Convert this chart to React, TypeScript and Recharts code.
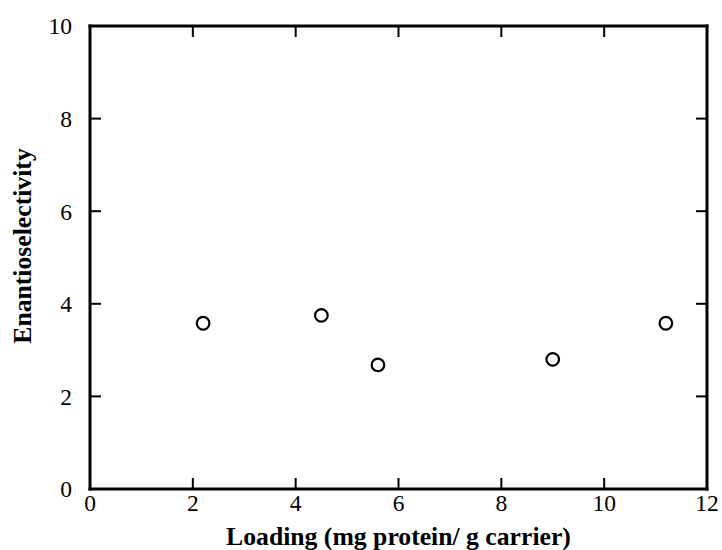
import React from "react";
import { ScatterChart, Scatter, XAxis, YAxis, ReferenceLine } from "recharts";

const loading = [2.2, 4.5, 5.6, 9.0, 11.2];
const enantioselectivity = [3.58, 3.75, 2.68, 2.8, 3.58];
const xTicks = [0, 2, 4, 6, 8, 10, 12];
const yTicks = [0, 2, 4, 6, 8, 10];

const data = loading.map((x, i) => ({ x, y: enantioselectivity[i] }));

const FONT = '"Liberation Serif", "Times New Roman", Times, serif';
const TICK_LEN = 11;

const tickStyle = { fontSize: 23.5, fontFamily: FONT, fill: "#000" };
const axisLine = { stroke: "#000", strokeWidth: 3, strokeLinecap: "square" as const };

// Inward tick marks on all four sides, drawn from reference lines placed by the axis scales
const VTick = (p: any) => {
  const top = Math.min(p.y1, p.y2);
  const bot = Math.max(p.y1, p.y2);
  const x = p.x1;
  return (
    <g>
      <line x1={x} x2={x} y1={bot} y2={bot - TICK_LEN} stroke="#000" strokeWidth={2} />
      <line x1={x} x2={x} y1={top} y2={top + TICK_LEN} stroke="#000" strokeWidth={2} />
    </g>
  );
};

const HTick = (p: any) => {
  const left = Math.min(p.x1, p.x2);
  const right = Math.max(p.x1, p.x2);
  const y = p.y1;
  return (
    <g>
      <line x1={left} x2={left + TICK_LEN} y1={y} y2={y} stroke="#000" strokeWidth={2} />
      <line x1={right} x2={right - TICK_LEN} y1={y} y2={y} stroke="#000" strokeWidth={2} />
    </g>
  );
};

const YTitle = (props: any) => {
  const vb = props.viewBox || { x: 0 };
  const cx = (vb.x || 0) + 31;
  const cy = 246;
  return (
    <text
      x={cx}
      y={cy}
      transform={`rotate(-90, ${cx}, ${cy})`}
      textAnchor="middle"
      fontFamily={FONT}
      fontWeight="bold"
      fontSize={25.7}
      fill="#000"
    >
      Enantioselectivity
    </text>
  );
};

const XTitle = (props: any) => {
  const vb = props.viewBox || { x: 90, y: 489, width: 617 };
  const cx = vb.x + vb.width / 2;
  return (
    <text x={cx} y={vb.y + 56} textAnchor="middle" fontFamily={FONT} fontWeight="bold" fontSize={25.7} fill="#000">
      Loading (mg protein/ g carrier)
    </text>
  );
};

const Dot = (props: any) => {
  const { cx, cy } = props;
  return <circle cx={cx} cy={cy} r={6.3} fill="#fff" stroke="#000" strokeWidth={2.2} />;
};

export default function App() {
  return (
    <div style={{ position: "absolute", left: 0, top: 0, background: "#fff" }}>
      <ScatterChart width={722} height={550} margin={{ top: 25, right: 14, bottom: 0, left: 0 }}>
        <XAxis
          xAxisId="b"
          type="number"
          dataKey="x"
          domain={[0, 12]}
          ticks={xTicks}
          orientation="bottom"
          height={61}
          tickSize={0}
          tickMargin={5}
          tickLine={false}
          axisLine={axisLine}
          tick={tickStyle}
          interval={0}
          label={<XTitle />}
        />
        <XAxis
          xAxisId="t"
          type="number"
          domain={[0, 12]}
          ticks={xTicks}
          orientation="top"
          height={1}
          tickSize={0}
          tickLine={false}
          axisLine={axisLine}
          tick={false}
        />
        <YAxis
          yAxisId="l"
          type="number"
          dataKey="y"
          domain={[0, 10]}
          ticks={yTicks}
          orientation="left"
          width={90}
          tickSize={0}
          tickMargin={18}
          tickLine={false}
          axisLine={axisLine}
          tick={tickStyle}
          interval={0}
          label={<YTitle />}
        />
        <YAxis
          yAxisId="r"
          type="number"
          domain={[0, 10]}
          ticks={yTicks}
          orientation="right"
          width={1}
          tickSize={0}
          tickLine={false}
          axisLine={axisLine}
          tick={false}
        />
        {xTicks.slice(1, -1).map((t) => (
          <ReferenceLine key={"vx" + t} x={t} xAxisId="b" yAxisId="l" shape={<VTick />} />
        ))}
        {yTicks.slice(1, -1).map((t) => (
          <ReferenceLine key={"hy" + t} y={t} xAxisId="b" yAxisId="l" shape={<HTick />} />
        ))}
        <Scatter xAxisId="b" yAxisId="l" data={data} shape={<Dot />} isAnimationActive={false} />
      </ScatterChart>
    </div>
  );
}
